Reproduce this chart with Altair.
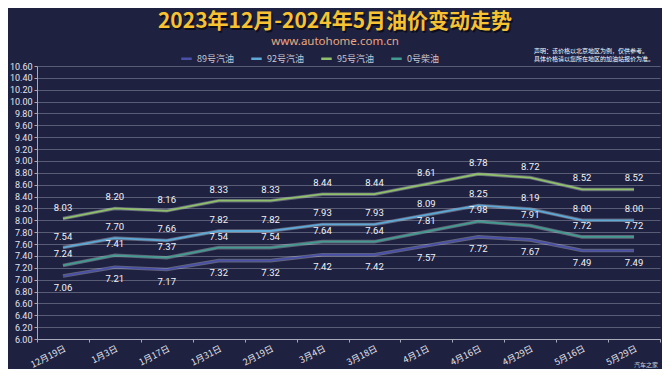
import altair as alt
import pandas as pd

dates = ["12月19日", "1月3日", "1月17日", "1月31日", "2月19日", "3月4日",
         "3月18日", "4月1日", "4月16日", "4月29日", "5月16日", "5月29日"]
series_names = ["89号汽油", "92号汽油", "95号汽油", "0号柴油"]
p89 = [7.06, 7.21, 7.17, 7.32, 7.32, 7.42, 7.42, 7.57, 7.72, 7.67, 7.49, 7.49]
p92 = [7.54, 7.70, 7.66, 7.82, 7.82, 7.93, 7.93, 8.09, 8.25, 8.19, 8.00, 8.00]
p95 = [8.03, 8.20, 8.16, 8.33, 8.33, 8.44, 8.44, 8.61, 8.78, 8.72, 8.52, 8.52]
p0 = [7.24, 7.41, 7.37, 7.54, 7.54, 7.64, 7.64, 7.81, 7.98, 7.91, 7.72, 7.72]
y_ticks = [6.0, 6.2, 6.4, 6.6, 6.8, 7.0, 7.2, 7.4, 7.6, 7.8, 8.0, 8.2,
           8.4, 8.6, 8.8, 9.0, 9.2, 9.4, 9.6, 9.8, 10.0, 10.2, 10.4, 10.6]

title_text = "2023年12月-2024年5月油价变动走势"
subtitle_text = "www.autohome.com.cn"
note1 = "声明：该价格以北京地区为例，仅供参考。"
note2 = "具体价格请以您所在地区的加油站报价为准。"
source_text = "汽车之家"

colors = ["#4a50a8", "#5ea8d6", "#8fbf6a", "#439a90"]
BG = "#1e2140"
FONT = "Noto Sans CJK SC"
NUMFONT = "Roboto"

rows = []
for name, vals in zip(series_names, [p89, p92, p95, p0]):
    for d, v in zip(dates, vals):
        rows.append({"date": d, "series": name, "price": v})
df = pd.DataFrame(rows)

x_enc = alt.X("date:N", sort=dates,
              scale=alt.Scale(type="band", paddingInner=0, paddingOuter=0),
              axis=alt.Axis(title=None, labelAngle=333, tickBand="extent",
                            labelFontSize=9, labelColor="#e4e4ec", labelFont=FONT,
                            tickSize=3, tickColor="#a8aabb", labelPadding=2,
                            domainColor="#a8aabb", gridColor="#c4c6d4", gridOpacity=0.45))
y_enc = alt.Y("price:Q", scale=alt.Scale(domain=[6.0, 10.6], nice=False, zero=False),
              axis=alt.Axis(title=None, values=y_ticks, format=".2f",
                            labelFontSize=9, labelColor="#e4e4ec", labelFont=NUMFONT,
                            tickSize=3, tickColor="#a8aabb", labelPadding=2,
                            domainColor="#a8aabb", gridColor="#c4c6d4", gridOpacity=0.45))

base = alt.Chart(df)

glow = base.mark_line(color="white", opacity=0.3, strokeWidth=3.6).encode(
    x=x_enc, y=y_enc, detail="series:N")

lines = base.mark_line(strokeWidth=1.8).encode(
    x=x_enc, y=y_enc,
    color=alt.Color("series:N", scale=alt.Scale(domain=series_names, range=colors),
                    legend=alt.Legend(title=None, orient="none", legendX=143, legendY=-14,
                                      direction="horizontal", symbolType="stroke",
                                      symbolStrokeWidth=2.5, symbolSize=110,
                                      labelFontSize=9, labelColor="#c8c8d4",
                                      labelFont=FONT, columnPadding=12,
                                      symbolOpacity=1)))

labels_up = base.transform_filter(alt.datum.series != "89号汽油").mark_text(
    dy=-11, fontSize=9.5, color="#f2f2f6", font=NUMFONT).encode(
    x=x_enc, y=y_enc, text=alt.Text("price:Q", format=".2f"))
labels_down = base.transform_filter(alt.datum.series == "89号汽油").mark_text(
    dy=12, fontSize=9.5, color="#f2f2f6", font=NUMFONT).encode(
    x=x_enc, y=y_enc, text=alt.Text("price:Q", format=".2f"))


def text_layer(txt, x, y, **kw):
    kw.setdefault("font", FONT)
    return alt.Chart(pd.DataFrame({"t": [txt]})).mark_text(**kw).encode(
        text="t:N", x=alt.value(x), y=alt.value(y))


title_shadow = text_layer(title_text, 299.5, -42.5, fontSize=21, fontWeight="bold",
                          color="#000000", opacity=0.55)
title = text_layer(title_text, 298, -44, fontSize=21, fontWeight="bold", color="#f6c232")
subtitle = text_layer(subtitle_text, 298, -24, fontSize=11.5, color="#eba882",
                      font="Noto Sans")
n1 = text_layer(note1, 497, -15, fontSize=6, color="#ffffff", align="left")
n2 = text_layer(note2, 497, -7, fontSize=6, color="#ffffff", align="left")
src = text_layer(source_text, 621, 299, fontSize=6, color="#d0d0d8", align="right")

chart = alt.layer(glow, lines, labels_up, labels_down,
                  title_shadow, title, subtitle, n1, n2, src).properties(
    width=623, height=273,
    autosize=alt.AutoSizeParams(type="none"),
    padding={"left": 29, "top": 58, "right": 2, "bottom": 30},
    background=BG,
).configure_view(stroke=None).configure_axis(gridWidth=0.8)

chart.save("out.html", embed_options={"renderer": "svg", "actions": False})
